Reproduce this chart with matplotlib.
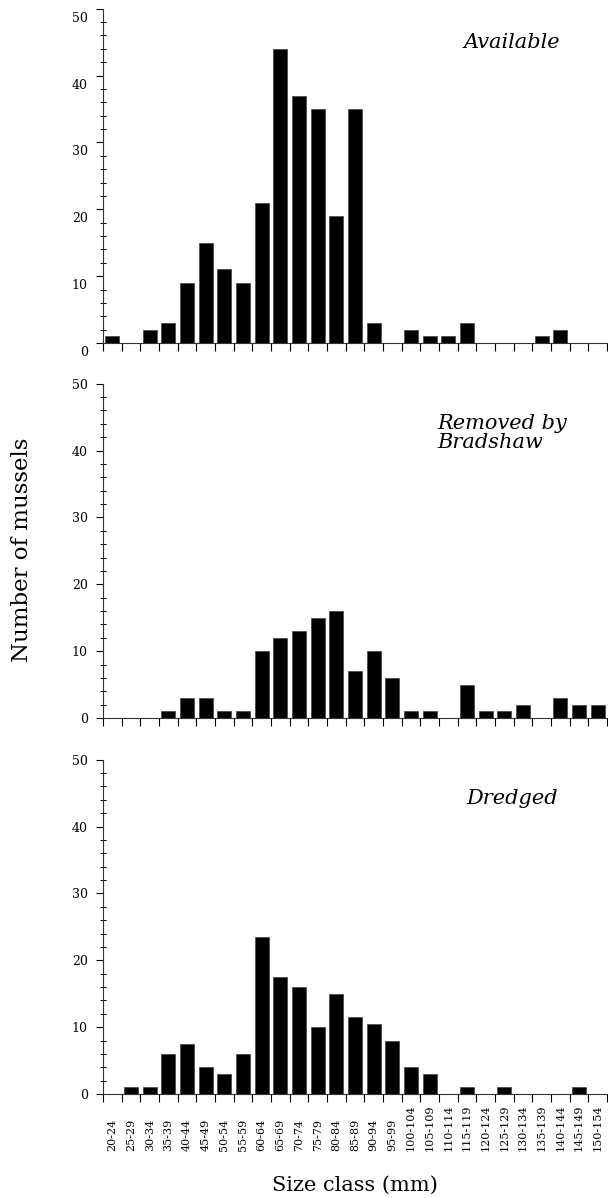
import numpy as np
import matplotlib.pyplot as plt
from matplotlib.ticker import MultipleLocator
from matplotlib.transforms import ScaledTranslation

# size classes (mm)
size_classes = ['20-24', '25-29', '30-34', '35-39', '40-44', '45-49', '50-54',
                '55-59', '60-64', '65-69', '70-74', '75-79', '80-84', '85-89',
                '90-94', '95-99', '100-104', '105-109', '110-114', '115-119',
                '120-124', '125-129', '130-134', '135-139', '140-144',
                '145-149', '150-154']

available = [1, 0, 2, 3, 9, 15, 11, 9, 21, 44, 37, 35, 19, 35, 3, 0, 2, 1, 1, 3,
             0, 0, 0, 1, 2, 0, 0]
removed = [0, 0, 0, 1, 3, 3, 1, 1, 10, 12, 13, 15, 16, 7, 10, 6, 1, 1, 0, 5,
           1, 1, 2, 0, 3, 2, 2]
dredged = [0, 1, 1, 6, 7.5, 4, 3, 6, 23.5, 17.5, 16, 10, 15, 11.5, 10.5, 8, 4,
           3, 0, 1, 0, 1, 0, 0, 0, 1, 0]

panel_names = ['Available', 'Removed by\nBradshaw', 'Dredged']
panel_data = [available, removed, dredged]

plt.rcParams['font.family'] = ['DejaVu Serif']

fig = plt.figure(figsize=(6.08, 11.98), dpi=100)
left = 103 / 608.
width = (607 - 103) / 608.
bottoms = [1 - 343 / 1198., 1 - 718 / 1198., 1 - 1094 / 1198.]
height = 0.279

# label placement in data coords (x, y, ha)
label_pos = [(21.4, 45, 'center'), (17.4, 42.6, 'left'), (21.4, 44.2, 'center')]

x = np.arange(len(size_classes))
for k in range(3):
    ax = fig.add_axes([left, bottoms[k], width, height])
    ax.bar(x, panel_data[k], width=0.75, color='black', edgecolor='#444444',
           linewidth=0.5)
    ax.set_xlim(-0.5, len(size_classes) - 0.5)
    ax.set_ylim(0, 50)
    for s in ['top', 'right']:
        ax.spines[s].set_visible(False)
    ax.spines['left'].set_color('#333333')
    ax.spines['bottom'].set_color('#333333')

    ax.set_xticks(np.arange(len(size_classes) + 1) - 0.5)
    ax.set_xticklabels([])
    ax.tick_params(axis='x', direction='out', length=6, width=0.8)

    ax.yaxis.set_major_locator(MultipleLocator(10))
    ax.yaxis.set_minor_locator(MultipleLocator(2))
    ax.tick_params(axis='y', which='major', direction='out', length=5,
                   width=0.8, labelsize=9, pad=6)
    ax.tick_params(axis='y', which='minor', direction='inout', length=4,
                   width=0.8)
    if k == 0:
        # labels sit a little below their ticks in the top panel
        off = ScaledTranslation(0, -8 / 100., fig.dpi_scale_trans)
        for lab in ax.get_yticklabels():
            lab.set_transform(lab.get_transform() + off)

    lx, ly, ha = label_pos[k]
    ax.text(lx, ly, panel_names[k], style='italic', fontsize=15, ha=ha,
            va='center', linespacing=1.0)

    if k == 2:
        for i, lab in enumerate(size_classes):
            ax.annotate(lab, xy=(i, 0), xycoords=('data', 'axes fraction'),
                        xytext=(0, -57 * 0.72), textcoords='offset points',
                        rotation=90, ha='center', va='bottom', fontsize=8)

fig.text(22 / 608., 1 - 550 / 1198., 'Number of mussels', rotation=90,
         ha='center', va='center', fontsize=16.5)
fig.text((103 + 607) / 2 / 608., 1 - 1185 / 1198., 'Size class (mm)',
         ha='center', va='center', fontsize=15)

fig.savefig('out.png', dpi=100)
